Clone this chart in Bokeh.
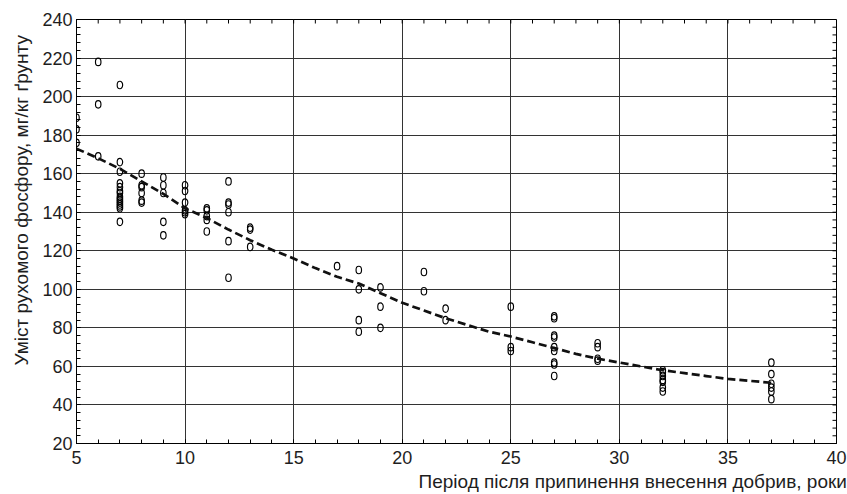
import numpy as np
from bokeh.plotting import figure
from bokeh.models import LinearAxis, Title, SingleIntervalTicker, Range1d, ColumnDataSource
from bokeh.embed import file_html
from bokeh.resources import INLINE

# ---- data ----
years = ([5] * 3 + [6] * 3 + [7] * 15 + [8] * 6 + [9] * 5 + [10] * 6 + [11] * 5 + [12] * 6 +
         [13] * 3 + [17] * 1 + [18] * 4 + [19] * 3 + [21] * 2 + [22] * 2 + [25] * 3 +
         [27] * 9 + [29] * 4 + [32] * 7 + [37] * 6)
phosphorus = ([189, 183, 176] +
              [218, 196, 169] +
              [206, 166, 161, 155, 153, 151, 150, 148, 147, 146, 145, 144, 143, 142, 135] +
              [160, 154, 153, 150, 146, 145] +
              [158, 154, 150, 135, 128] +
              [154, 151, 145, 141, 140, 139] +
              [142, 141, 138, 136, 130] +
              [156, 145, 144, 140, 125, 106] +
              [132, 131, 122] +
              [112] +
              [110, 100, 84, 78] +
              [101, 91, 80] +
              [109, 99] +
              [90, 84] +
              [91, 70, 68] +
              [86, 85, 76, 75, 70, 68, 62, 61, 55] +
              [72, 70, 64, 63] +
              [58, 57, 55, 53, 52, 49, 47] +
              [62, 56, 51, 49, 47, 43])

fit_years = list(range(5, 38))
fit_values = [173, 168, 162.5, 156, 149.5, 142, 137, 131, 125.5, 120.5, 116, 111, 106.5,
              103, 98, 93, 89, 85, 81.5, 78, 75.5, 72.5, 69.5, 66.5, 64, 62, 60, 58,
              56.5, 55, 53.5, 52.5, 51.5]

x_min, x_max, x_major, x_minor = 5, 40, 5, 1
y_min, y_max, y_major, y_minor = 20, 240, 20, 4
x_title = "Період після припинення внесення добрив, роки"
y_title = "Уміст рухомого фосфору, мг/кг ґрунту"

FONT = "Liberation Sans"
TXT = "#1e1e1e"
W, H = 847, 494
ML, MR, MT, MB = 76, 11, 19, 51
TICK = 4

p = figure(width=W, height=H, output_backend="svg", toolbar_location=None,
           x_range=Range1d(x_min, x_max), y_range=Range1d(y_min, y_max),
           min_border_left=ML, min_border_right=MR, min_border_top=MT, min_border_bottom=MB,
           x_axis_location=None, y_axis_location=None)
p.background_fill_color = "white"
p.border_fill_color = "white"
p.outline_line_color = "black"
p.outline_line_width = 1


def make_axis(interval):
    ax = LinearAxis(ticker=SingleIntervalTicker(interval=interval, num_minor_ticks=5))
    ax.axis_line_color = "black"
    ax.axis_line_width = 1
    ax.major_tick_in = TICK
    ax.major_tick_out = 0
    ax.minor_tick_in = TICK
    ax.minor_tick_out = 0
    ax.major_tick_line_color = "black"
    ax.minor_tick_line_color = "black"
    ax.major_label_text_font = FONT
    ax.major_label_text_font_size = "18px"
    ax.major_label_text_color = TXT
    return ax


bottom = make_axis(x_major)
bottom.major_label_standoff = 7
left = make_axis(y_major)
left.major_label_standoff = 4
p.add_layout(bottom, "below")
p.add_layout(left, "left")

p.xgrid.ticker = bottom.ticker
p.ygrid.ticker = left.ticker
p.xgrid.grid_line_color = "#333333"
p.ygrid.grid_line_color = "#333333"
p.xgrid.grid_line_width = 1
p.ygrid.grid_line_width = 1

# inward ticks on the top and right frame edges (mirroring the axes)
px_x = (W - ML - MR) / (x_max - x_min)
px_y = (H - MT - MB) / (y_max - y_min)
tx = np.arange(x_min, x_max + 0.001, x_minor)
ty = np.arange(y_min, y_max + 0.001, y_minor)
p.segment(x0=tx, y0=np.full(len(tx), y_max), x1=tx, y1=np.full(len(tx), y_max - TICK / px_y),
          line_color="black", line_width=1)
p.segment(x0=np.full(len(ty), x_max), y0=ty, x1=np.full(len(ty), x_max - TICK / px_x), y1=ty,
          line_color="black", line_width=1)

src = ColumnDataSource(dict(x=years, y=phosphorus))
p.ellipse(x="x", y="y", width=5.5, height=7.5, width_units="screen", height_units="screen",
          source=src, fill_color=None, line_color="black", line_width=1.15)

p.line(fit_years, fit_values, line_color="#111111", line_width=2.7, line_dash="8 4")

p.add_layout(Title(text=y_title, align="left", offset=78, text_font=FONT,
                   text_font_size="19px", text_font_style="normal", text_color=TXT,
                   vertical_align="top", standoff=12), "left")
p.add_layout(Title(text=x_title, align="left", offset=342, text_font=FONT,
                   text_font_size="19px", text_font_style="normal", text_color=TXT,
                   standoff=5), "below")

open("out.html", "w").write(file_html(p, INLINE))
